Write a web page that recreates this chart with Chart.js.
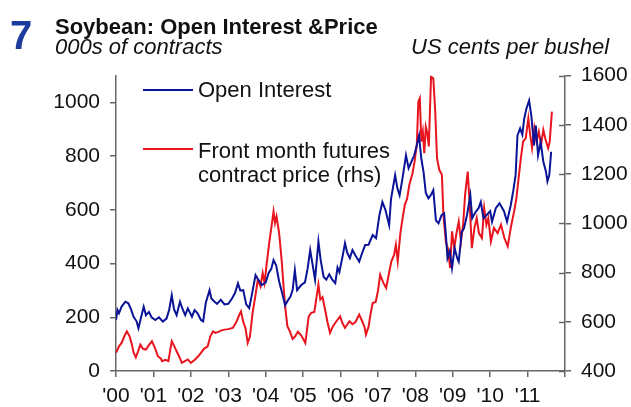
<!DOCTYPE html>
<html>
<head>
<meta charset="utf-8">
<script src="https://cdn.jsdelivr.net/npm/chart.js@4.4.1/dist/chart.umd.min.js"></script>
<style>
  body { margin:0; background:#fff; font-family:"Liberation Sans", Arial, sans-serif; }
  #wrap { position:relative; width:631px; height:407px; overflow:hidden; }
  #chart { position:absolute; left:0; top:0; }
  .t { position:absolute; white-space:nowrap; line-height:1; color:#111; }
  .num { left:10px; top:15px; font-size:40px; font-weight:bold; color:#1b3c9e; }
  .title { left:55px; top:16px; font-size:22px; font-weight:bold; }
  .sub { font-size:22px; font-style:italic; top:36px; }
  .leg { font-size:22px; left:198px; }
  .swatch { position:absolute; left:143px; width:50px; height:2px; }
</style>
</head>
<body>
<div id="wrap">
  <canvas id="chart" width="631" height="407"></canvas>
  <div class="t num">7</div>
  <div class="t title">Soybean: Open Interest &amp;Price</div>
  <div class="t sub" style="left:55px">000s of contracts</div>
  <div class="t sub" style="left:411px">US cents per bushel</div>
  <div class="swatch" style="top:89px;background:#0b1496"></div>
  <div class="t leg" style="top:79px">Open Interest</div>
  <div class="swatch" style="top:148px;background:#e8141e"></div>
  <div class="t leg" style="top:140px">Front month futures</div>
  <div class="t leg" style="top:164px">contract price (rhs)</div>
</div>
<script>
// =====================
// DATA
// =====================
const yearLabels = ["'00","'01","'02","'03","'04","'05","'06","'07","'08","'09","'10","'11"]
const leftTicks = [0, 200, 400, 600, 800, 1000]
const rightTicks = [400, 600, 800, 1000, 1200, 1400, 1600]

// open interest, 000s of contracts (lhs)
const oiYears = [2000.00,2000.04,2000.08,2000.15,2000.25,2000.33,2000.40,2000.47,2000.55,2000.60,2000.67,2000.74,2000.80,2000.88,2000.95,
  2001.05,2001.15,2001.25,2001.35,2001.42,2001.49,2001.55,2001.62,2001.71,2001.78,2001.85,2001.92,
  2002.03,2002.10,2002.18,2002.27,2002.33,2002.40,2002.50,2002.55,2002.62,2002.70,2002.80,2002.90,
  2003.00,2003.10,2003.18,2003.26,2003.32,2003.40,2003.48,2003.56,2003.62,2003.73,2003.80,2003.90,
  2004.00,2004.08,2004.15,2004.21,2004.28,2004.36,2004.44,2004.52,2004.58,2004.66,2004.72,2004.78,2004.84,2004.95,
  2005.05,2005.12,2005.19,2005.25,2005.32,2005.41,2005.47,2005.55,2005.62,2005.70,2005.78,2005.86,2005.92,2005.97,
  2006.06,2006.12,2006.18,2006.25,2006.32,2006.40,2006.50,2006.58,2006.66,2006.75,2006.86,2006.95,
  2007.04,2007.12,2007.20,2007.30,2007.35,2007.40,2007.46,2007.52,2007.58,2007.66,2007.75,2007.82,2007.90,2007.97,
  2008.04,2008.10,2008.16,2008.22,2008.28,2008.35,2008.42,2008.48,2008.55,2008.62,2008.70,2008.77,2008.82,2008.86,2008.92,2008.98,
  2009.05,2009.12,2009.16,2009.24,2009.30,2009.38,2009.47,2009.52,2009.60,2009.69,2009.75,2009.82,2009.90,
  2010.00,2010.05,2010.15,2010.25,2010.37,2010.45,2010.55,2010.62,2010.68,2010.73,2010.80,2010.86,2010.91,2010.97,
  2011.04,2011.10,2011.17,2011.22,2011.28,2011.35,2011.42,2011.49,2011.53,2011.58,2011.63]
const oiValues = [190,227,215,240,258,252,230,202,185,159,200,239,208,220,200,
  190,200,184,195,227,282,230,208,258,230,208,233,
  202,227,215,190,185,254,301,270,260,250,265,248,
  250,270,290,326,300,301,248,234,276,357,340,320,
  330,365,380,413,393,333,290,245,260,276,301,375,301,320,
  330,380,450,400,340,482,413,350,340,360,340,327,385,368,
  430,476,440,420,450,430,407,440,469,470,506,494,
  580,629,600,543,640,681,729,680,654,720,803,755,780,803,
  840,876,790,740,663,643,656,673,561,550,580,587,500,420,446,383,
  458,420,407,517,531,580,654,569,590,606,629,569,580,
  595,556,606,624,595,556,617,673,729,877,903,880,940,977,
  1007,951,840,914,803,853,780,743,706,729,816]

// front month futures price, US cents per bushel (rhs)
const priceYears = [2000.00,2000.08,2000.15,2000.22,2000.29,2000.36,2000.42,2000.47,2000.53,2000.59,2000.65,2000.72,2000.80,2000.88,2000.96,
  2001.05,2001.12,2001.20,2001.23,2001.32,2001.40,2001.49,2001.56,2001.62,2001.70,2001.76,2001.84,2001.92,
  2002.00,2002.10,2002.20,2002.27,2002.35,2002.45,2002.52,2002.59,2002.66,2002.75,2002.82,2002.90,
  2003.00,2003.12,2003.22,2003.30,2003.34,2003.40,2003.46,2003.52,2003.58,2003.65,2003.72,2003.79,2003.86,2003.92,2003.97,
  2004.03,2004.10,2004.16,2004.21,2004.25,2004.29,2004.36,2004.43,2004.48,2004.52,2004.58,2004.65,2004.72,2004.79,2004.86,2004.95,
  2005.06,2005.15,2005.22,2005.30,2005.36,2005.41,2005.46,2005.52,2005.58,2005.65,2005.72,2005.80,2005.88,2005.99,
  2006.05,2006.12,2006.24,2006.32,2006.40,2006.50,2006.58,2006.64,2006.68,2006.75,2006.80,2006.86,2006.94,
  2007.00,2007.06,2007.14,2007.22,2007.30,2007.36,2007.43,2007.48,2007.53,2007.60,2007.66,2007.72,2007.78,2007.84,2007.92,2007.98,
  2008.04,2008.08,2008.12,2008.16,2008.20,2008.24,2008.28,2008.32,2008.36,2008.42,2008.48,2008.53,2008.58,2008.64,2008.71,2008.75,2008.82,2008.87,2008.93,2008.98,
  2009.04,2009.10,2009.16,2009.22,2009.28,2009.33,2009.40,2009.45,2009.51,2009.58,2009.64,2009.70,2009.78,2009.84,2009.90,2009.95,
  2010.02,2010.10,2010.20,2010.29,2010.38,2010.47,2010.55,2010.64,2010.70,2010.75,2010.82,2010.88,2010.95,
  2011.02,2011.07,2011.12,2011.18,2011.24,2011.30,2011.36,2011.42,2011.48,2011.55,2011.59,2011.65]
const priceValues = [474,500,514,540,561,542,510,475,455,480,507,490,487,505,521,
  490,460,450,440,445,440,521,500,480,455,433,440,447,
  433,445,460,474,490,500,540,561,555,560,565,568,
  570,575,600,630,642,600,575,514,540,636,700,771,744,798,758,
  839,926,990,1048,1001,1028,960,845,740,663,582,560,530,541,560,545,
  514,622,636,640,700,751,690,700,656,600,555,582,600,622,
  595,575,602,590,599,629,602,580,548,580,629,676,680,
  724,791,760,737,800,845,870,913,845,960,1021,1075,1100,1156,1200,1250,
  1320,1494,1508,1332,1372,1285,1392,1366,1312,1595,1589,1460,1264,1217,1197,1034,920,899,818,967,
  899,960,1007,926,1000,1116,1210,1088,899,981,1021,960,940,1062,994,1021,
  926,981,960,994,940,906,981,1048,1100,1169,1264,1332,1345,
  1426,1359,1305,1386,1332,1372,1318,1379,1340,1305,1330,1453]

// =====================
// PLUGIN: right axis ticks cross the axis line
// =====================
const crossTicks = {
  id: "crossTicks",
  afterDraw(chart){
    const ctx = chart.ctx
    const y1 = chart.scales.y1
    ctx.save()
    ctx.strokeStyle = "#666"
    ctx.lineWidth = 1.5
    rightTicks.forEach(v => {
      const py = Math.round(y1.getPixelForValue(v)) + 0.5
      ctx.beginPath()
      ctx.moveTo(y1.left - 6, py)
      ctx.lineTo(y1.left, py)
      ctx.stroke()
    })
    ctx.restore()
  }
}

// =====================
// CHART
// =====================
const tickFont = { family: "Liberation Sans", size: 21 }
const axisGrid = { drawOnChartArea: false, tickLength: 6, color: "#666", lineWidth: 1.5 }
const axisBorder = { display: true, color: "#666", width: 1.5 }
const plainNumber = v => String(v)

new Chart(document.getElementById("chart"), {
  type: "line",
  data: {
    datasets: [
      {
        label: "Open Interest",
        data: oiYears.map((x, i) => ({ x, y: oiValues[i] })),
        yAxisID: "y",
        borderColor: "#0b1496",
        borderWidth: 2,
        pointRadius: 0,
        tension: 0
      },
      {
        label: "Front month futures contract price (rhs)",
        data: priceYears.map((x, i) => ({ x, y: priceValues[i] })),
        yAxisID: "y1",
        borderColor: "#e8141e",
        borderWidth: 2,
        pointRadius: 0,
        tension: 0
      }
    ]
  },
  options: {
    responsive: false,
    animation: false,
    layout: { padding: { top: 75.5, left: 0, right: 0, bottom: 0 } },
    plugins: { legend: { display: false }, tooltip: { enabled: false } },
    scales: {
      x: {
        type: "linear", min: 2000, max: 2012,
        grid: axisGrid, border: axisBorder,
        afterFit: s => { s.height = 36 },
        ticks: {
          stepSize: 1, autoSkip: false, maxRotation: 0, padding: 7,
          color: "#111", font: tickFont,
          callback: v => yearLabels[v - 2000] || ""
        }
      },
      y: {
        position: "left", min: 0, max: 1100,
        grid: axisGrid, border: axisBorder,
        afterFit: s => { s.width = 116 },
        afterBuildTicks: s => { s.ticks = leftTicks.map(v => ({ value: v })) },
        ticks: { padding: 10, color: "#111", font: tickFont, callback: plainNumber }
      },
      y1: {
        position: "right", min: 400, max: 1600,
        grid: axisGrid, border: axisBorder,
        afterFit: s => { s.width = 66 },
        afterBuildTicks: s => { s.ticks = rightTicks.map(v => ({ value: v })) },
        ticks: { padding: 10, color: "#111", font: tickFont, callback: plainNumber }
      }
    }
  },
  plugins: [crossTicks]
})
</script>
</body>
</html>
